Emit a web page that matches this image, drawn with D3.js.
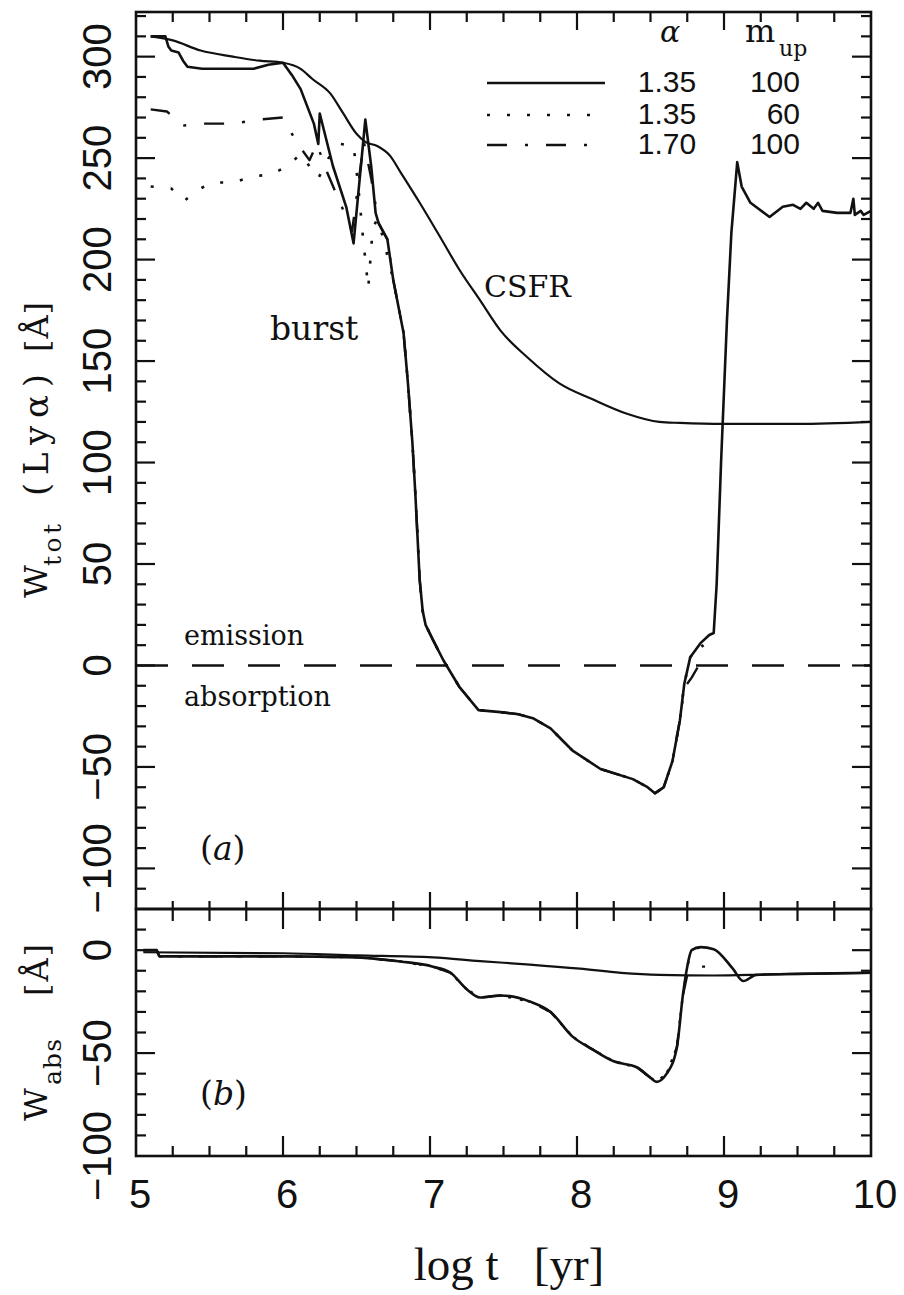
<!DOCTYPE html>
<html>
<head>
<meta charset="utf-8">
<script src="https://cdn.jsdelivr.net/npm/d3@7"></script>
<style>
  body { margin: 0; background: #fff; }
  text { fill: #111; }
</style>
</head>
<body>
<div id="chart"></div>
<script>
// ---- data (log t, W in Angstrom) ----
const xTickLabels = [5, 6, 7, 8, 9, 10];
const yTickLabelsA = [300, 250, 200, 150, 100, 50, 0, -50, -100];
const yTickLabelsB = [0, -50, -100];

const legendAlpha = ["1.35", "1.35", "1.70"];
const legendMup = ["100", "60", "100"];

// panel (a): total equivalent width
const csfrA = [
  [5.1, 310], [5.25, 308], [5.44, 303], [5.66, 300], [5.84, 298], [6.0, 297],
  [6.12, 294], [6.2, 289], [6.32, 282], [6.41, 272], [6.5, 262], [6.56, 258],
  [6.64, 256], [6.73, 251], [6.8, 243], [6.93, 228], [7.07, 211], [7.2, 195],
  [7.34, 180], [7.48, 165], [7.66, 152], [7.88, 139], [8.11, 131], [8.34, 124],
  [8.56, 120], [8.7, 119.5], [9.0, 119], [9.5, 119], [10, 120]
];
const burstEarlyA = [
  [5.1, 310], [5.2, 310], [5.22, 305], [5.24, 303], [5.29, 302], [5.32, 298],
  [5.35, 295], [5.45, 294], [5.6, 294], [5.8, 294], [5.9, 296], [6.0, 297],
  [6.06, 291], [6.12, 284], [6.21, 267], [6.24, 257], [6.25, 272], [6.34, 246],
  [6.43, 226], [6.48, 208], [6.56, 269], [6.6, 246], [6.63, 223], [6.65, 218],
  [6.71, 210]
];
const declineA = [
  [6.75, 190], [6.82, 164], [6.85, 139], [6.88, 110], [6.9, 85], [6.93, 42],
  [6.95, 27], [6.97, 20], [7.02, 12.6], [7.09, 2.7], [7.2, -10.6], [7.33, -22],
  [7.48, -23], [7.6, -24], [7.7, -26], [7.82, -31], [7.97, -42], [8.16, -51],
  [8.38, -56], [8.48, -60], [8.53, -63], [8.59, -60], [8.65, -47], [8.7, -27]
];
const burstLateA = [
  [8.73, -9], [8.77, 4], [8.84, 11], [8.9, 15], [8.93, 16], [8.95, 40],
  [8.98, 100], [9.02, 170], [9.05, 213], [9.09, 248], [9.12, 236], [9.18, 228],
  [9.31, 221], [9.4, 226], [9.47, 227], [9.52, 225], [9.56, 228], [9.61, 225],
  [9.64, 228], [9.67, 224], [9.77, 223], [9.86, 223], [9.88, 230], [9.89, 222],
  [9.93, 224], [9.95, 222], [10, 224]
];
const dashDotEarlyA = [
  [5.1, 274], [5.21, 273], [5.24, 271], [5.32, 266], [5.44, 267], [5.66, 267],
  [5.84, 269], [6.0, 270], [6.06, 262], [6.14, 253], [6.18, 249], [6.23, 257],
  [6.3, 243], [6.4, 226], [6.47, 214], [6.55, 258], [6.6, 240], [6.65, 218],
  [6.71, 210]
];
const dashDotLateA = [[8.73, -11], [8.78, -6], [8.82, -1]];
const dottedEarlyA = [
  [5.1, 236], [5.24, 235], [5.33, 229], [5.41, 234], [5.52, 238], [5.66, 238],
  [5.8, 241], [5.92, 242], [6.03, 246], [6.12, 252], [6.24, 240], [6.31, 250],
  [6.39, 257], [6.48, 256], [6.5, 244], [6.52, 230], [6.54, 214], [6.56, 200],
  [6.58, 186], [6.61, 215], [6.64, 220], [6.68, 211]
];
const dottedLateA = [[8.73, -9], [8.77, 4], [8.84, 11], [8.9, 5]];

// panel (b): absorption equivalent width
const csfrB = [
  [5.05, -1], [6.0, -1.5], [6.5, -2.5], [7.02, -3.5], [7.34, -5.3], [7.68, -7],
  [8.02, -9], [8.3, -11], [8.56, -12], [8.93, -12.3], [9.3, -11.8], [10, -11]
];
const absB = [
  [5.05, 0], [5.14, 0], [5.16, -3], [6.0, -3], [6.5, -3.5], [6.6, -4],
  [6.8, -5.5], [7.02, -8], [7.14, -11], [7.25, -19], [7.34, -23], [7.48, -22],
  [7.68, -25], [7.82, -30], [7.97, -42], [8.1, -48], [8.25, -54], [8.41, -57],
  [8.5, -62], [8.54, -64], [8.61, -60], [8.68, -47], [8.72, -22]
];
const burstLateB = [
  [8.75, -8], [8.78, 0], [8.84, 1.5], [8.93, 0.5], [9.06, -9], [9.13, -15],
  [9.22, -12], [9.5, -11.5], [10, -11]
];
const dashDotLateB = [[8.75, -12], [8.79, -9], [8.84, -8], [8.93, -8]];

// ---- layout ----
const WIDTH = 904, HEIGHT = 1295;
const LEFT = 136, RIGHT = 871;
const TOP_A = 12, MID = 909, BOT_B = 1156;

const svg = d3.select("#chart").append("svg")
  .attr("width", WIDTH).attr("height", HEIGHT);

const x = d3.scaleLinear().domain([5, 10]).range([LEFT, RIGHT]);
const yA = d3.scaleLinear().domain([-120, 322]).range([MID, TOP_A]);
const yB = d3.scaleLinear().domain([-100, 20]).range([BOT_B, MID]);

const SANS = "'Liberation Sans', Arial, Helvetica, sans-serif";
const SERIF = "'DejaVu Serif', serif";

const DASHDOT = "20,18,3,18";
const DOTTED = "3,17";

function drawLine(y, data, dash, width, curve) {
  const line = d3.line()
    .x((d) => x(d[0]))
    .y((d) => y(d[1]))
    .curve(curve || d3.curveLinear);
  svg.append("path")
    .attr("d", line(data))
    .attr("fill", "none")
    .attr("stroke", "#111")
    .attr("stroke-width", width)
    .attr("stroke-linejoin", "round")
    .attr("stroke-dasharray", dash || null);
}

// ---- ticks ----
const xMinor = d3.range(5.25, 10, 0.25);
function tick(x1, y1, x2, y2) {
  svg.append("line")
    .attr("x1", x1).attr("y1", y1).attr("x2", x2).attr("y2", y2)
    .attr("stroke", "#111").attr("stroke-width", 2.2);
}
xMinor.forEach((v) => {
  const major = Math.abs(v - Math.round(v)) < 1e-6;
  const px = x(v);
  tick(px, TOP_A, px, TOP_A + (major ? 18 : 10));
  tick(px, MID - (major ? 17 : 8), px, MID + (major ? 20 : 12));
  tick(px, BOT_B, px, BOT_B - (major ? 20 : 10));
});

d3.range(-110, 321, 10).forEach((v) => {
  const major = v % 50 === 0;
  const len = major ? 19 : 10;
  tick(LEFT, yA(v), LEFT + len, yA(v));
  tick(RIGHT, yA(v), RIGHT - len, yA(v));
});
d3.range(-90, 20, 10).forEach((v) => {
  const major = v % 50 === 0;
  const len = major ? 19 : 10;
  tick(LEFT, yB(v), LEFT + len, yB(v));
  tick(RIGHT, yB(v), RIGHT - len, yB(v));
});

// frames
[[TOP_A, MID], [MID, BOT_B]].forEach(([t, b]) => {
  svg.append("rect")
    .attr("x", LEFT).attr("y", t)
    .attr("width", RIGHT - LEFT).attr("height", b - t)
    .attr("fill", "none").attr("stroke", "#111").attr("stroke-width", 2.6);
});

// tick labels
const fmt = (v) => (v < 0 ? "\u2212" + Math.abs(v) : String(v));
xTickLabels.forEach((v) => {
  svg.append("text")
    .attr("x", x(v) + 4).attr("y", 1208)
    .attr("text-anchor", "middle")
    .attr("font-family", SANS).attr("font-size", 40)
    .text(v);
});
function yLabel(y, v) {
  svg.append("text")
    .attr("transform", `translate(111, ${y(v)}) rotate(-90)`)
    .attr("text-anchor", "middle")
    .attr("font-family", SANS).attr("font-size", 40)
    .text(fmt(v));
}
yTickLabelsA.forEach((v) => yLabel(yA, v));
yTickLabelsB.forEach((v) => yLabel(yB, v));

// ---- curves ----
// zero line
svg.append("line")
  .attr("x1", LEFT).attr("x2", RIGHT)
  .attr("y1", yA(0)).attr("y2", yA(0))
  .attr("stroke", "#111").attr("stroke-width", 2.4)
  .attr("stroke-dasharray", "32,24");

drawLine(yA, csfrA, null, 2.2, d3.curveMonotoneX);
drawLine(yA, burstEarlyA.concat(declineA, burstLateA), null, 2.6);
drawLine(yA, dashDotEarlyA.concat(declineA, dashDotLateA), DASHDOT, 2.4);
drawLine(yA, dottedEarlyA.concat(declineA, dottedLateA), DOTTED, 2.6);

drawLine(yB, csfrB, null, 2.2, d3.curveMonotoneX);
drawLine(yB, absB.concat(burstLateB), null, 2.6, d3.curveMonotoneX);
drawLine(yB, absB.concat(dashDotLateB), DASHDOT, 2.4);
drawLine(yB, absB.concat(burstLateB.slice(0, 4)), DOTTED, 2.4);

// ---- annotations ----
function label(px, py, str, size, extra) {
  const t = svg.append("text")
    .attr("x", px).attr("y", py)
    .attr("font-family", SERIF).attr("font-size", size)
    .text(str);
  if (extra) extra(t);
  return t;
}
label(270, 340, "burst", 33);
label(484, 297, "CSFR", 30);
label(184, 645, "emission", 27);
label(184, 706, "absorption", 27);

function panelTag(px, py, letter) {
  const t = svg.append("text").attr("x", px).attr("y", py)
    .attr("font-family", SERIF).attr("font-size", 33);
  t.append("tspan").text("(");
  t.append("tspan").attr("font-style", "italic").text(letter);
  t.append("tspan").text(")");
}
panelTag(200, 860, "a");
panelTag(200, 1105, "b");

// legend
label(660, 42, "\u03b1", 30, (t) => t.attr("font-style", "italic"));
label(745, 42, "m", 32);
label(779, 56, "up", 22);
const legendY = [83, 115, 145];
const legendDash = [null, DOTTED, DASHDOT];
const legendEnd = [605, 592, 592];
legendY.forEach((ly, i) => {
  svg.append("line")
    .attr("x1", 487).attr("x2", legendEnd[i])
    .attr("y1", ly).attr("y2", ly)
    .attr("stroke", "#111").attr("stroke-width", 2.4)
    .attr("stroke-dasharray", legendDash[i]);
  svg.append("text")
    .attr("x", 667).attr("y", ly + 9).attr("text-anchor", "middle")
    .attr("font-family", SANS).attr("font-size", 30)
    .text(legendAlpha[i]);
  svg.append("text")
    .attr("x", 800).attr("y", ly + 9).attr("text-anchor", "end")
    .attr("font-family", SANS).attr("font-size", 30)
    .text(legendMup[i]);
});

// axis titles
svg.append("text")
  .attr("x", 509).attr("y", 1280).attr("text-anchor", "middle")
  .attr("font-family", "'Liberation Serif', serif").attr("font-size", 47)
  .attr("xml:space", "preserve")
  .text("log t   [yr]");

function rotPiece(cx, startY, str, size, length) {
  const t = svg.append("text")
    .attr("transform", `translate(${cx}, ${startY}) rotate(-90)`)
    .attr("font-family", SERIF).attr("font-size", size)
    .text(str);
  if (length) t.attr("textLength", length).attr("lengthAdjust", "spacing");
}
// W_tot (Lya) [A]
rotPiece(47, 598, "W", 32);
rotPiece(61, 566, "tot", 25, 42);
rotPiece(48, 496, "(Ly\u03b1)", 34, 122);
rotPiece(48, 352, "[\u00c5]", 32, 50);
// W_abs [A]
rotPiece(47, 1121, "W", 32);
rotPiece(61, 1085, "abs", 25, 46);
rotPiece(48, 996, "[\u00c5]", 32, 52);
</script>
</body>
</html>
